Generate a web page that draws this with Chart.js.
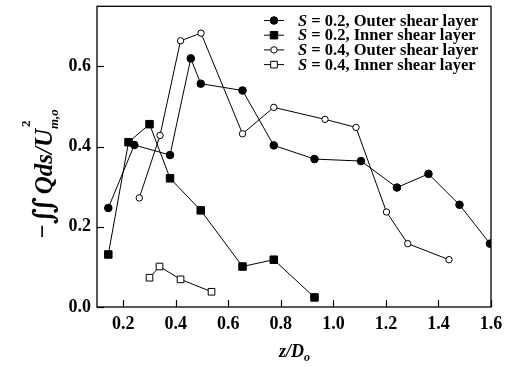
<!DOCTYPE html>
<html>
<head>
<meta charset="utf-8">
<script src="https://cdn.jsdelivr.net/npm/chart.js@4"></script>
<style>
  html, body { margin: 0; padding: 0; background: #fff; }
  #wrap { width: 515px; height: 367px; }
</style>
</head>
<body>
<div id="wrap"><canvas id="myChart" width="515" height="367"></canvas></div>
<script>
// values
var seriesNames = ['S = 0.2, Outer shear layer', 'S = 0.2, Inner shear layer',
                   'S = 0.4, Outer shear layer', 'S = 0.4, Inner shear layer'];

var outer02X = [0.143, 0.242, 0.378, 0.457, 0.495, 0.654, 0.773, 0.928, 1.105, 1.242, 1.362, 1.48, 1.596];
var outer02Y = [0.247, 0.404, 0.379, 0.620, 0.557, 0.540, 0.403, 0.369, 0.364, 0.298, 0.332, 0.255, 0.158];

var inner02X = [0.143, 0.220, 0.300, 0.378, 0.495, 0.654, 0.773, 0.928];
var inner02Y = [0.131, 0.411, 0.456, 0.321, 0.241, 0.101, 0.118, 0.024];

var outer04X = [0.261, 0.340, 0.418, 0.496, 0.654, 0.773, 0.968, 1.086, 1.202, 1.283, 1.440];
var outer04Y = [0.272, 0.428, 0.664, 0.683, 0.432, 0.498, 0.468, 0.448, 0.237, 0.158, 0.118];

var inner04X = [0.300, 0.338, 0.418, 0.536];
var inner04Y = [0.073, 0.101, 0.069, 0.038];

var xTicks = [0.2, 0.4, 0.6, 0.8, 1.0, 1.2, 1.4, 1.6];
var yTicks = [0.0, 0.2, 0.4, 0.6];

function pairs(xs, ys) {
    return xs.map(function (x, i) { return {x: x, y: ys[i]}; });
}

var SERIF = '"Liberation Serif", "Times New Roman", "DejaVu Serif", serif';

// styles for each series (also used by the legend)
var markers = [
    {style: 'circle', radius: 3.8, fill: '#000'},
    {style: 'rect', radius: 5.3, fill: '#000'},
    {style: 'circle', radius: 3.2, fill: '#fff'},
    {style: 'rect', radius: 4.7, fill: '#fff'}
];
var allX = [outer02X, inner02X, outer04X, inner04X];
var allY = [outer02Y, inner02Y, outer04Y, inner04Y];

var datasets = seriesNames.map(function (name, i) {
    return {
        label: name,
        data: pairs(allX[i], allY[i]),
        showLine: true,
        borderColor: '#000',
        borderWidth: 1,
        pointStyle: markers[i].style,
        pointRadius: markers[i].radius,
        pointBackgroundColor: markers[i].fill,
        pointBorderColor: '#000',
        pointBorderWidth: 1
    };
});

function keepTicks(list) {
    return function (scale) {
        scale.ticks = list.map(function (v) { return {value: v}; });
    };
}

function drawMarker(ctx, m, x, y) {
    ctx.beginPath();
    if (m.style === 'circle') {
        ctx.arc(x, y, m.radius, 0, Math.PI * 2);
    } else {
        var s = m.radius * Math.SQRT1_2;
        ctx.rect(x - s, y - s, 2 * s, 2 * s);
    }
    ctx.fillStyle = m.fill;
    ctx.fill();
    ctx.strokeStyle = '#000';
    ctx.lineWidth = 1;
    ctx.stroke();
}

// frame, inward ticks, legend and axis titles
var decorations = {
    id: 'decorations',
    beforeDatasetsDraw: function (chart) {
        var ctx = chart.ctx, a = chart.chartArea;
        var xs = chart.scales.x, ys = chart.scales.y;
        ctx.save();
        ctx.strokeStyle = '#000';
        ctx.lineWidth = 1.3;
        ctx.strokeRect(a.left, a.top, a.right - a.left, a.bottom - a.top);
        ctx.lineWidth = 1.2;
        xs.ticks.forEach(function (t) {
            var px = Math.round(xs.getPixelForValue(t.value)) + 0.5;
            ctx.beginPath();
            ctx.moveTo(px, a.bottom);
            ctx.lineTo(px, a.bottom - 7);
            ctx.stroke();
        });
        ys.ticks.forEach(function (t) {
            var py = Math.round(ys.getPixelForValue(t.value)) + 0.5;
            ctx.beginPath();
            ctx.moveTo(a.left, py);
            ctx.lineTo(a.left + 7, py);
            ctx.stroke();
        });
        ctx.restore();
    },
    afterDraw: function (chart) {
        var ctx = chart.ctx;
        ctx.save();
        ctx.fillStyle = '#000';
        ctx.textBaseline = 'middle';

        // legend
        var lx = 264, ly = 20.5, step = 14.7;
        seriesNames.forEach(function (name, i) {
            var y = ly + i * step;
            ctx.strokeStyle = '#000';
            ctx.lineWidth = 1;
            ctx.beginPath();
            ctx.moveTo(lx, y);
            ctx.lineTo(lx + 20, y);
            ctx.stroke();
            drawMarker(ctx, markers[i], lx + 10, y);
            ctx.fillStyle = '#000';
            ctx.font = 'italic bold 16.5px ' + SERIF;
            ctx.fillText('S', lx + 34, y + 1);
            var w = ctx.measureText('S').width;
            ctx.font = 'bold 16.5px ' + SERIF;
            ctx.fillText(name.slice(1), lx + 34 + w, y + 1);
        });

        // x title: z/D_o
        ctx.textBaseline = 'alphabetic';
        ctx.font = 'italic bold 18px ' + SERIF;
        var tx = 279, tb = 357;
        ctx.fillText('z/D', tx, tb);
        var wz = ctx.measureText('z/D').width;
        ctx.font = 'italic bold 12px ' + SERIF;
        ctx.fillText('o', tx + wz, tb + 4);

        // y title: -∬ Qds/U_{m,o}^2 (rotated)
        ctx.translate(52, 238);
        ctx.rotate(-Math.PI / 2);
        var cx = 0;
        ctx.font = 'bold 24px ' + SERIF;
        ctx.fillText('\u2212', cx, -2);
        cx += ctx.measureText('\u2212').width;
        ctx.font = 'bold 28px "DejaVu Serif", serif';
        ctx.fillText('\u222C', cx, 1);
        cx += ctx.measureText('\u222C').width + 2;
        ctx.font = 'italic bold 25px ' + SERIF;
        ctx.fillText('Qds/U', cx, 0);
        cx += ctx.measureText('Qds/U').width;
        ctx.font = 'italic bold 13px ' + SERIF;
        ctx.fillText('m,o', cx, 6);
        ctx.font = 'bold 13px ' + SERIF;
        ctx.fillText('2', cx + 2, -22);
        ctx.restore();
    }
};

var ctx = document.getElementById('myChart').getContext('2d');
var chart = new Chart(ctx, {
    type: 'scatter',
    data: {datasets: datasets},
    options: {
        responsive: false,
        animation: false,
        layout: {padding: {top: 6, right: 24, left: 0, bottom: 0}},
        plugins: {legend: {display: false}, tooltip: {enabled: false}},
        scales: {
            x: {
                type: 'linear',
                min: 0.1,
                max: 1.6,
                afterBuildTicks: keepTicks(xTicks),
                afterFit: function (s) {
                    s.height = 60;
                    s.paddingLeft = 0;
                    s.paddingRight = 0;
                },
                grid: {display: false, drawTicks: false},
                border: {display: false},
                ticks: {
                    color: '#000',
                    padding: 7,
                    font: {family: SERIF, size: 18, weight: 'bold'},
                    callback: function (v) { return v.toFixed(1); }
                }
            },
            y: {
                type: 'linear',
                min: 0,
                max: 0.75,
                afterBuildTicks: keepTicks(yTicks),
                afterFit: function (s) {
                    s.width = 97;
                    s.paddingTop = 0;
                    s.paddingBottom = 0;
                },
                grid: {display: false, drawTicks: false},
                border: {display: false},
                ticks: {
                    color: '#000',
                    padding: 6,
                    font: {family: SERIF, size: 18, weight: 'bold'},
                    callback: function (v) { return v.toFixed(1); }
                }
            }
        }
    },
    plugins: [decorations]
});
</script>
</body>
</html>
